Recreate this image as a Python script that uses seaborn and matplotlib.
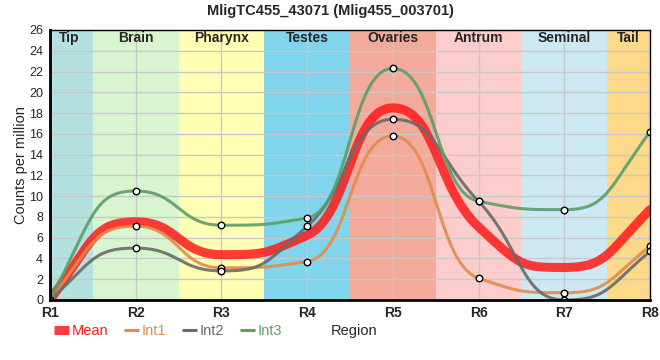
import matplotlib
matplotlib.use("Agg")
import matplotlib.pyplot as plt
import seaborn as sns
import numpy as np
import pandas as pd

regions = ["R1", "R2", "R3", "R4", "R5", "R6", "R7", "R8"]
int1 = [0, 7.1, 3.1, 3.7, 15.8, 2.1, 0.7, 5.2]
int2 = [0, 5.0, 2.8, 7.1, 17.4, 9.5, 0, 4.7]
int3 = [0, 10.5, 7.2, 7.9, 22.3, 9.5, 8.7, 16.2]

tissues = ["Tip", "Brain", "Pharynx", "Testes", "Ovaries", "Antrum", "Seminal", "Tail"]
tissue_colors = ["#b3e2de", "#d9f5d0", "#ffffb3", "#80d4ec",
                 "#f4aa9a", "#fdcccc", "#cce9f3", "#fdd98a"]

series_colors = {"Mean": "#ff1a1a", "Int1": "#e08c4a", "Int2": "#6a6a6a", "Int3": "#5a9e68"}


# smooth curve through the points (monotone tangents, bezier handles at half the step)
def smooth_curve(y, k=0.5, n=40):
    y = np.asarray(y, dtype=float)
    x = np.arange(len(y), dtype=float)
    s = np.diff(y)
    t = np.zeros(len(y))
    for i in range(1, len(y) - 1):
        p = (s[i - 1] + s[i]) / 2
        t[i] = (np.sign(s[i - 1]) + np.sign(s[i])) * min(abs(s[i - 1]), abs(s[i]), 0.5 * abs(p))
    t[0] = (3 * s[0] - t[1]) / 2
    t[-1] = (3 * s[-1] - t[-2]) / 2
    xs, ys = [], []
    u = np.linspace(0, 1, n, endpoint=False)
    b0, b1, b2, b3 = (1 - u) ** 3, 3 * (1 - u) ** 2 * u, 3 * (1 - u) * u ** 2, u ** 3
    for i in range(len(y) - 1):
        px = [x[i], x[i] + k, x[i + 1] - k, x[i + 1]]
        py = [y[i], y[i] + k * t[i], y[i + 1] - k * t[i + 1], y[i + 1]]
        xs.append(b0 * px[0] + b1 * px[1] + b2 * px[2] + b3 * px[3])
        ys.append(b0 * py[0] + b1 * py[1] + b2 * py[2] + b3 * py[3])
    xs.append([x[-1]])
    ys.append([y[-1]])
    return np.concatenate(xs), np.concatenate(ys)


mean = np.mean([int1, int2, int3], axis=0)
series = {"Mean": mean, "Int1": int1, "Int2": int2, "Int3": int3}

rows = []
for name, vals in series.items():
    xs, ys = smooth_curve(vals)
    rows.append(pd.DataFrame({"x": xs, "y": ys, "series": name}))
curves = pd.concat(rows, ignore_index=True)

points = pd.concat([pd.DataFrame({"x": np.arange(len(regions)), "y": v, "series": k})
                    for k, v in series.items() if k != "Mean"], ignore_index=True)

sns.set_style("white")
plt.rcParams["font.family"] = ["Liberation Sans", "DejaVu Sans"]

fig = plt.figure(figsize=(6.6, 3.6), dpi=100)
ax = fig.add_axes([50 / 660, 60 / 360, 600 / 660, 270 / 360])

# tissue bands
for i, (name, col) in enumerate(zip(tissues, tissue_colors)):
    ax.axvspan(i - 0.5, i + 0.5, color=col, lw=0, zorder=0)
    ax.text(i if 0 < i < 7 else (0.22 if i == 0 else 6.75), 25.2, name, ha="center", va="center",
            fontsize=10, fontweight="bold", zorder=5)

ax.set_xlim(0, 7)
ax.set_ylim(0, 26)
ax.set_yticks(np.arange(0, 27, 2))
ax.set_xticks(np.arange(len(regions)))
ax.set_xticklabels(regions, fontweight="bold", fontsize=10)
ax.tick_params(axis="y", labelsize=9, length=4, width=1.5, pad=1)
ax.tick_params(axis="x", length=0, pad=4)
ax.grid(True, color="#c8c8c8", lw=1, zorder=1)
ax.set_axisbelow(False)

sns.lineplot(data=curves[curves.series == "Mean"], x="x", y="y", color=series_colors["Mean"],
             lw=6.5, alpha=0.85, ax=ax, zorder=3, legend=False, sort=False, estimator=None)
for name in ["Int1", "Int2", "Int3"]:
    sns.lineplot(data=curves[curves.series == name], x="x", y="y", color=series_colors[name],
                 lw=2.2, alpha=0.9, ax=ax, zorder=4, legend=False, sort=False, estimator=None)

sns.scatterplot(data=points, x="x", y="y", s=22, facecolor="white", edgecolor="black",
                linewidth=1, ax=ax, zorder=6, legend=False)

for side in ["left", "bottom"]:
    ax.spines[side].set_linewidth(2)
for side in ["top", "right"]:
    ax.spines[side].set_linewidth(1)
for sp in ax.spines.values():
    sp.set_color("black")
    sp.set_zorder(7)

ax.set_xlabel("")
ax.set_ylabel("Counts per million", fontsize=10.5)
ax.yaxis.set_label_coords(-22 / 600, 0.5)
fig.suptitle("MligTC455_43071 (Mlig455_003701)", fontsize=10.5, fontweight="bold", y=0.99)

# legend in the bottom strip
handles = [plt.Line2D([], [], color=series_colors["Mean"], lw=6.5, alpha=0.85, solid_capstyle="butt"),
           plt.Line2D([], [], color=series_colors["Int1"], lw=2.2, solid_capstyle="butt"),
           plt.Line2D([], [], color=series_colors["Int2"], lw=2.2, solid_capstyle="butt"),
           plt.Line2D([], [], color=series_colors["Int3"], lw=2.2, solid_capstyle="butt")]
leg = fig.legend(handles, list(series.keys()), loc="center left", bbox_to_anchor=(54 / 660, 1 - 331 / 360),
                 ncol=4, frameon=False, fontsize=10.5, handlelength=1.0, handletextpad=0.2,
                 columnspacing=1.1, borderaxespad=0, borderpad=0)
for txt, name in zip(leg.get_texts(), series.keys()):
    txt.set_color(series_colors[name])
fig.text(331 / 660, 1 - 331 / 360, "Region", fontsize=10.5, va="center", ha="left")

fig.savefig("out.png", dpi=100)
